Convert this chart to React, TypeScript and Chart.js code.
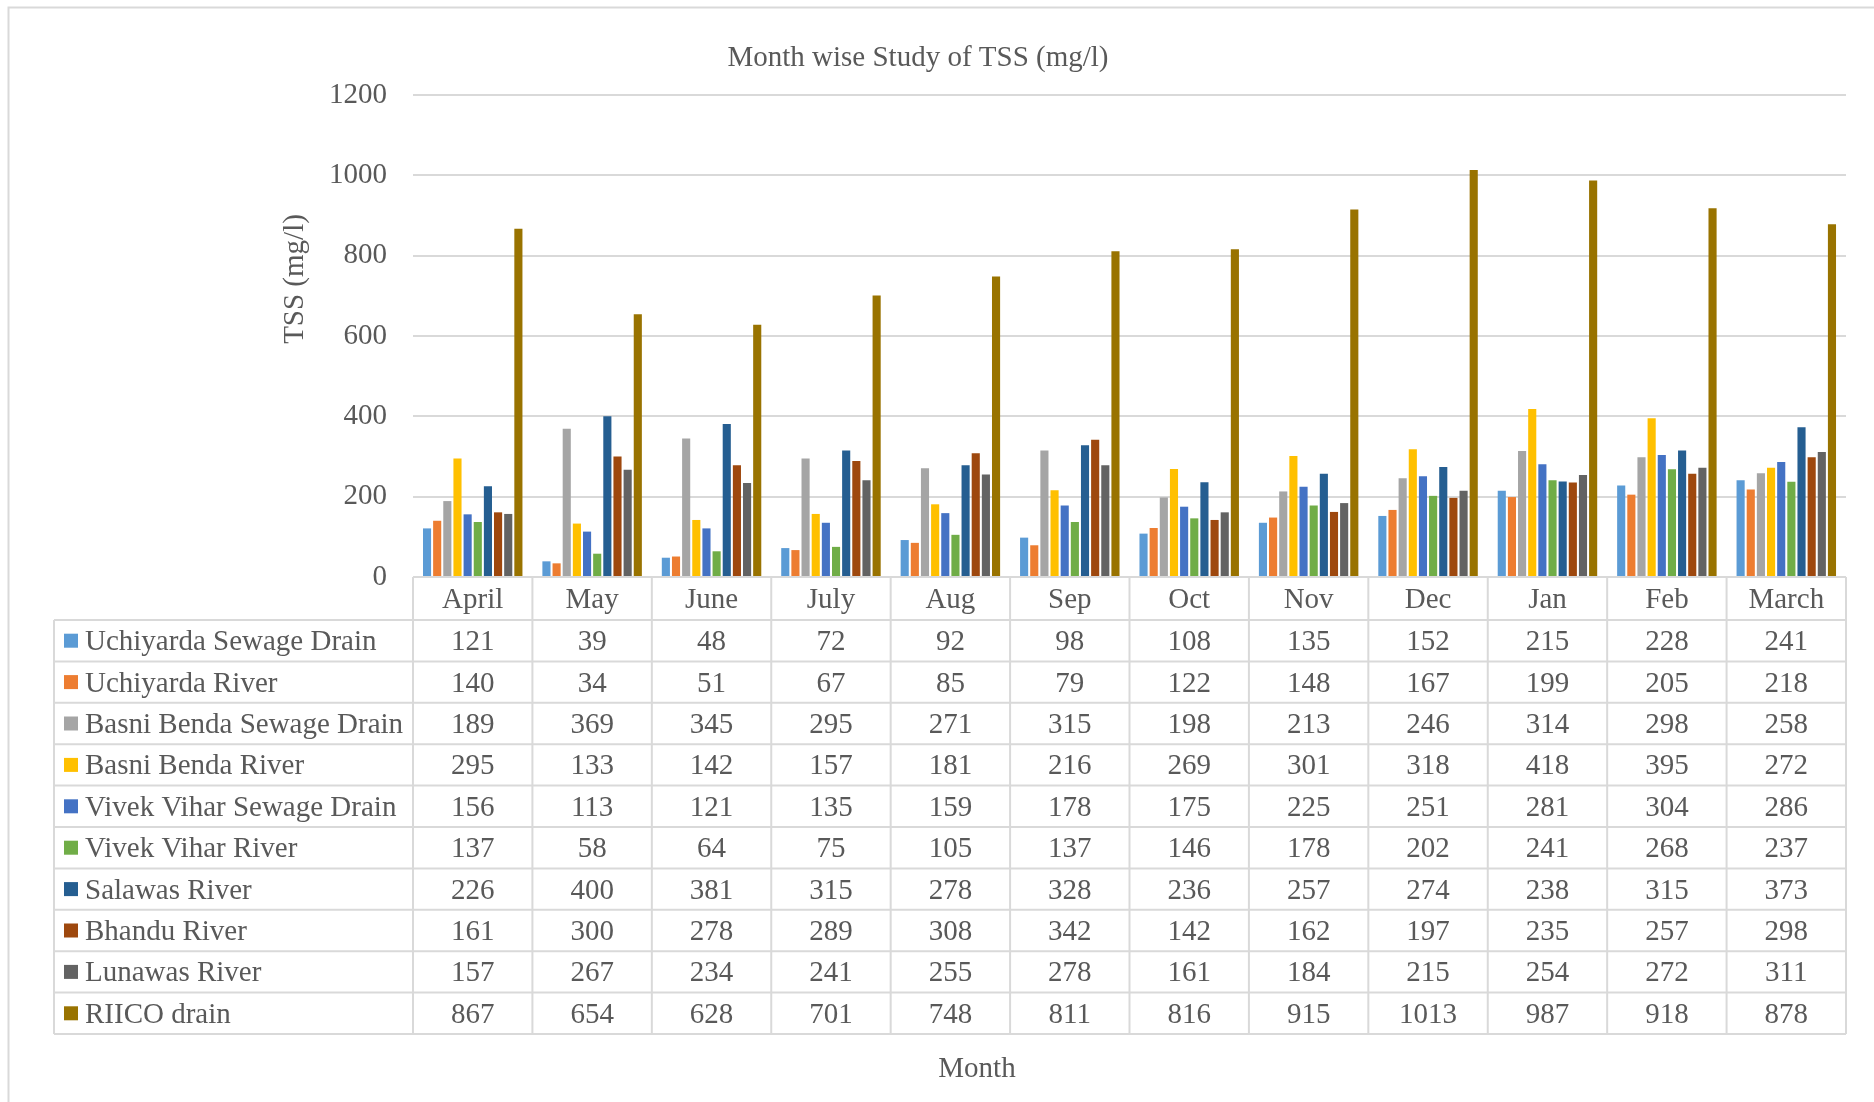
import React, { useEffect, useRef } from "react";
import { Chart, registerables } from "chart.js";

Chart.register(...registerables);

// ---------------- DATA ----------------
const months = ["April", "May", "June", "July", "Aug", "Sep", "Oct", "Nov", "Dec", "Jan", "Feb", "March"];

const uchiyardaSewageDrain = [121, 39, 48, 72, 92, 98, 108, 135, 152, 215, 228, 241];
const uchiyardaRiver = [140, 34, 51, 67, 85, 79, 122, 148, 167, 199, 205, 218];
const basniBendaSewageDrain = [189, 369, 345, 295, 271, 315, 198, 213, 246, 314, 298, 258];
const basniBendaRiver = [295, 133, 142, 157, 181, 216, 269, 301, 318, 418, 395, 272];
const vivekViharSewageDrain = [156, 113, 121, 135, 159, 178, 175, 225, 251, 281, 304, 286];
const vivekViharRiver = [137, 58, 64, 75, 105, 137, 146, 178, 202, 241, 268, 237];
const salawasRiver = [226, 400, 381, 315, 278, 328, 236, 257, 274, 238, 315, 373];
const bhanduRiver = [161, 300, 278, 289, 308, 342, 142, 162, 197, 235, 257, 298];
const lunawasRiver = [157, 267, 234, 241, 255, 278, 161, 184, 215, 254, 272, 311];
const riicoDrain = [867, 654, 628, 701, 748, 811, 816, 915, 1013, 987, 918, 878];

const seriesNames = [
  "Uchiyarda Sewage Drain",
  "Uchiyarda River",
  "Basni Benda Sewage Drain",
  "Basni Benda River",
  "Vivek Vihar Sewage Drain",
  "Vivek Vihar River",
  "Salawas River",
  "Bhandu River",
  "Lunawas River",
  "RIICO drain",
];
const seriesValues = [
  uchiyardaSewageDrain,
  uchiyardaRiver,
  basniBendaSewageDrain,
  basniBendaRiver,
  vivekViharSewageDrain,
  vivekViharRiver,
  salawasRiver,
  bhanduRiver,
  lunawasRiver,
  riicoDrain,
];
const seriesColors = [
  "#5B9BD5",
  "#ED7D31",
  "#A5A5A5",
  "#FFC000",
  "#4472C4",
  "#70AD47",
  "#255E91",
  "#9E480E",
  "#636363",
  "#997300",
];

const chartTitle = "Month wise Study of TSS (mg/l)";
const yAxisTitle = "TSS (mg/l)";
const xAxisTitle = "Month";
const yMin = 0;
const yMax = 1200;
const yStep = 200;

// ---------------- STYLE ----------------
const FONT = "'Liberation Serif', 'Times New Roman', serif";
const TEXT = "#595959";
const LINE = "#d9d9d9";
const FS = 29;

const tablePlugin = {
  id: "excelDecor",
  afterDraw(chart: any) {
    const ctx: CanvasRenderingContext2D = chart.ctx;
    const area = chart.chartArea;
    const xs = chart.scales.x;
    const n = months.length;
    const colW = (area.right - area.left) / n;
    const headerTop = area.bottom;
    const headerBottom = headerTop + 43;
    const rowH = 41.4;
    const tableLeft = 54;
    const tableBottom = headerBottom + rowH * seriesNames.length;

    ctx.save();
    // outer chart frame
    ctx.strokeStyle = LINE;
    ctx.lineWidth = 2;
    ctx.strokeRect(8.5, 7.5, 2000, 2000);

    // table lines
    ctx.lineWidth = 2;
    ctx.strokeStyle = LINE;
    ctx.beginPath();
    ctx.moveTo(area.left, headerTop);
    ctx.lineTo(area.right, headerTop);
    for (let r = 0; r <= seriesNames.length; r++) {
      const y = headerBottom + r * rowH;
      ctx.moveTo(tableLeft, y);
      ctx.lineTo(area.right, y);
    }
    for (let c = 0; c <= n; c++) {
      const x = area.left + c * colW;
      ctx.moveTo(x, headerTop);
      ctx.lineTo(x, tableBottom);
    }
    ctx.moveTo(tableLeft, headerBottom);
    ctx.lineTo(tableLeft, tableBottom);
    ctx.stroke();

    ctx.fillStyle = TEXT;
    ctx.font = `${FS}px ${FONT}`;
    ctx.textBaseline = "alphabetic";
    const off = FS * 0.33;

    // header
    ctx.textAlign = "center";
    months.forEach((m, i) => {
      const cx = xs.getPixelForValue(i);
      ctx.fillText(m, cx, (headerTop + headerBottom) / 2 + off);
    });

    // rows
    seriesNames.forEach((name, r) => {
      const cy = headerBottom + rowH * (r + 0.5);
      ctx.fillStyle = seriesColors[r];
      ctx.fillRect(64, cy - 7, 14, 14);
      ctx.fillStyle = TEXT;
      ctx.textAlign = "left";
      ctx.fillText(name, 85, cy + off);
      ctx.textAlign = "center";
      seriesValues[r].forEach((v, i) => {
        ctx.fillText(String(v), xs.getPixelForValue(i), cy + off);
      });
    });

    // titles
    ctx.textAlign = "center";
    ctx.fillText(chartTitle, 918, 56 + off);
    ctx.fillText(xAxisTitle, 977, 1067 + off);
    ctx.save();
    ctx.translate(293 + off, 279);
    ctx.rotate(-Math.PI / 2);
    ctx.fillText(yAxisTitle, 0, 0);
    ctx.restore();

    ctx.restore();
  },
};

export default function App() {
  const canvasRef = useRef<HTMLCanvasElement | null>(null);

  useEffect(() => {
    if (!canvasRef.current) return;
    const chart = new Chart(canvasRef.current, {
      type: "bar",
      data: {
        labels: months,
        datasets: seriesNames.map((name, i) => ({
          label: name,
          data: seriesValues[i],
          backgroundColor: seriesColors[i],
          borderWidth: 0,
          categoryPercentage: 0.85,
          barPercentage: 0.8,
        })),
      },
      options: {
        responsive: false,
        animation: false,
        layout: { padding: { top: 95, bottom: 525, left: 0, right: 28 } },
        plugins: {
          legend: { display: false },
          title: { display: false },
          tooltip: { enabled: false },
        },
        scales: {
          x: {
            display: false,
            grid: { display: false },
          },
          y: {
            min: yMin,
            max: yMax,
            border: { display: false },
            grid: { color: LINE, lineWidth: 2, drawTicks: false },
            ticks: {
              stepSize: yStep,
              padding: 26,
              color: TEXT,
              font: { family: FONT, size: FS },
              callback: (v: any) => String(v),
            },
            afterFit: (s: any) => {
              s.width = 413;
            },
          },
        },
      },
      plugins: [tablePlugin],
    });
    return () => chart.destroy();
  }, []);

  return (
    <div style={{ position: "fixed", left: 0, top: 0, width: 1874, height: 1102, background: "#fff" }}>
      <canvas ref={canvasRef} width={1874} height={1102} style={{ display: "block" }} />
    </div>
  );
}
